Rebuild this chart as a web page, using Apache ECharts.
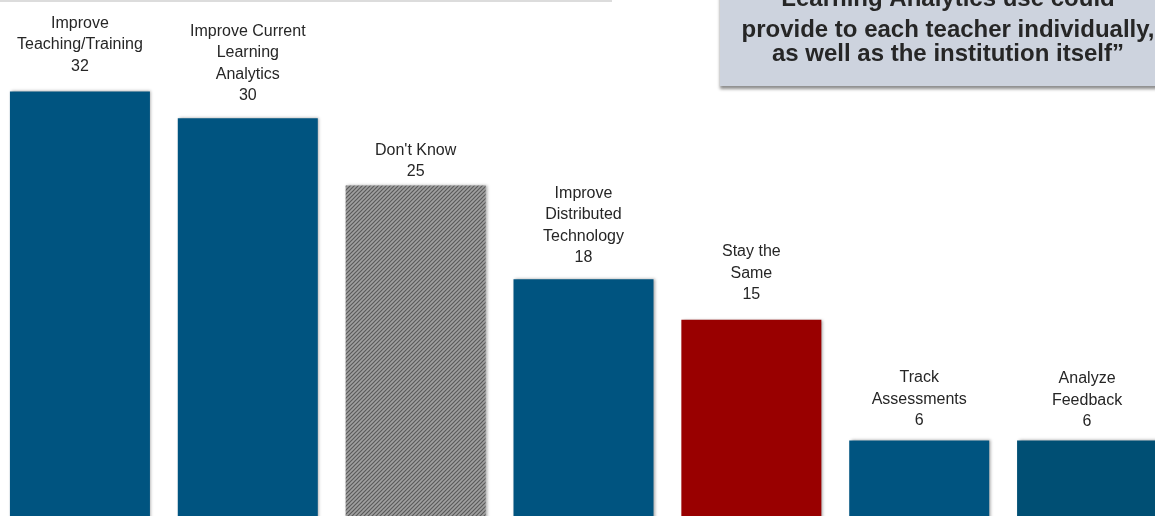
<!DOCTYPE html>
<html>
<head>
<meta charset="utf-8">
<script src="https://cdn.jsdelivr.net/npm/echarts@6/dist/echarts.min.js"></script>
<style>
  html, body { margin: 0; padding: 0; background: #ffffff; overflow: hidden; width: 1155px; height: 516px; position: relative; }
  /* the plot runs a little past the page edges on the left, top and bottom */
  #chart { position: absolute; left: -4px; top: -16px; width: 1175px; height: 537px; }
</style>
</head>
<body>
<div id="chart"></div>
<script>
// Survey responses: how Learning Analytics use should change
const categories = [
  'Improve\nTeaching/Training',
  'Improve Current\nLearning\nAnalytics',
  "Don't Know",
  'Improve\nDistributed\nTechnology',
  'Stay the\nSame',
  'Track\nAssessments',
  'Analyze\nFeedback'
];
const counts = [32, 30, 25, 18, 15, 6, 6];
const barKinds = ['blue', 'blue', 'hatch', 'blue', 'red', 'blue', 'darkblue'];

const calloutLines = [
  'Learning Analytics use could',
  'provide to each teacher individually,',
  'as well as the institution itself\u201d'
];

// chart div is shifted by this much relative to the page
const OX = 4, OY = 16;

// gap between each bar top and its label block
const labelGaps = [14.5, 11.5, 3, 11, 14, 9, 8];

// diagonal hatch fill for the "Don't Know" bar
function hatchPattern() {
  const c = document.createElement('canvas');
  c.width = 4; c.height = 4;
  const g = c.getContext('2d');
  g.fillStyle = '#a0a0a0';
  g.fillRect(0, 0, 4, 4);
  g.strokeStyle = '#5a5a5a';
  g.lineWidth = 1.2;
  g.beginPath();
  g.moveTo(-1, 5); g.lineTo(5, -1);
  g.moveTo(-1, 1); g.lineTo(1, -1);
  g.moveTo(3, 5); g.lineTo(5, 3);
  g.stroke();
  return c;
}

const fills = {
  blue: '#005480',
  darkblue: '#004f74',
  red: '#990000',
  hatch: { image: hatchPattern(), repeat: 'repeat' }
};

const calloutFont = 'bold 24px "Liberation Sans", Arial, sans-serif';
const calloutCenters = [-1, 30.5, 54.5];

const chart = echarts.init(document.getElementById('chart'));
chart.setOption({
  animation: false,
  backgroundColor: '#ffffff',
  grid: { left: 0, right: 0, top: 0, bottom: 0, containLabel: false },
  xAxis: {
    type: 'category',
    data: categories,
    show: false
  },
  yAxis: {
    type: 'value',
    min: 0,
    max: 40,
    show: false,
    splitLine: { show: false }
  },
  series: [{
    type: 'bar',
    barWidth: 140,
    data: counts.map((v, i) => ({
      value: v,
      itemStyle: { color: fills[barKinds[i]] },
      label: { distance: labelGaps[i] }
    })),
    itemStyle: {
      shadowColor: 'rgba(0,0,0,0.35)',
      shadowBlur: 3,
      shadowOffsetX: 1.5,
      shadowOffsetY: 0
    },
    label: {
      show: true,
      position: 'top',
      formatter: p => p.name + '\n' + p.value,
      fontFamily: 'Liberation Sans, Arial, sans-serif',
      fontSize: 16,
      lineHeight: 21.5,
      color: '#262626',
      align: 'center'
    }
  }],
  graphic: [
    {
      type: 'rect',
      shape: { x: OX, y: OY, width: 612, height: 2 },
      style: { fill: '#dcdcdc' },
      silent: true
    },
    {
      type: 'rect',
      shape: { x: 720 + OX, y: OY - 20, width: 470, height: 106 },
      style: {
        fill: '#cdd3de',
        shadowColor: 'rgba(0,0,0,0.45)',
        shadowBlur: 3,
        shadowOffsetY: 3
      },
      silent: true
    }
  ].concat(calloutLines.map((t, i) => ({
    type: 'text',
    x: 948 + OX,
    y: calloutCenters[i] + OY,
    style: {
      text: t,
      font: calloutFont,
      fill: '#262626',
      align: 'center',
      verticalAlign: 'middle'
    },
    silent: true
  })))
});
</script>
</body>
</html>
